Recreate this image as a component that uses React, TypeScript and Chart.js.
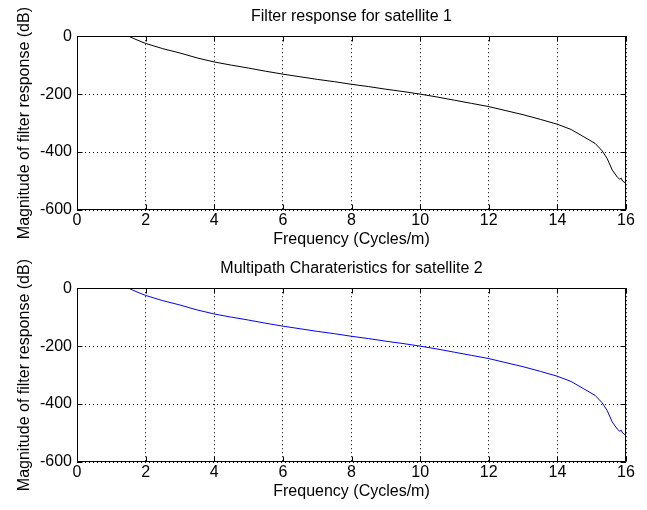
import React, { useEffect, useRef } from "react";
import { Chart, registerables } from "chart.js";

Chart.register(...registerables);

const freq1 = [1.5, 1.75, 2, 2.5, 3, 3.5, 4, 4.5, 5, 5.5, 6, 6.5, 7, 7.5, 8, 8.5, 9, 9.5, 10, 10.5, 11, 11.5, 12, 12.5, 13, 13.5, 14, 14.4, 14.75, 15.1, 15.3, 15.45, 15.6, 15.75, 15.82, 15.86, 15.9, 16];
const mag1 = [0, -13, -25, -43, -58, -75, -89, -100, -110, -121, -131, -140, -149, -157, -166, -174, -183, -191, -200, -210, -221, -232, -243, -257, -271, -287, -304, -322, -346, -370, -395, -422, -462, -487, -494, -490, -500, -508];
const freq2 = [1.5, 1.75, 2, 2.5, 3, 3.5, 4, 4.5, 5, 5.5, 6, 6.5, 7, 7.5, 8, 8.5, 9, 9.5, 10, 10.5, 11, 11.5, 12, 12.5, 13, 13.5, 14, 14.4, 14.75, 15.1, 15.3, 15.45, 15.6, 15.75, 15.82, 15.86, 15.9, 16];
const mag2 = [0, -13, -25, -43, -58, -75, -89, -100, -110, -121, -131, -140, -149, -157, -166, -174, -183, -191, -200, -210, -221, -232, -243, -257, -271, -287, -304, -322, -346, -370, -395, -422, -462, -487, -494, -490, -500, -508];

const title1 = "Filter response for satellite 1";
const title2 = "Multipath Charateristics for satellite 2";
const xLabel = "Frequency (Cycles/m)";
const yLabel = "Magnitude of filter response (dB)";
const xTicks = [0, 2, 4, 6, 8, 10, 12, 14, 16];
const yTicks = [-600, -400, -200, 0];

const FONT = "Arial, 'Liberation Sans', Helvetica, sans-serif";

const boxPlugin = {
  id: "matlabBox",
  afterDraw(chart: any) {
    const { ctx, chartArea } = chart;
    const xs = chart.scales.x;
    const ys = chart.scales.y;
    const l = Math.round(chartArea.left) + 0.5;
    const r = Math.round(chartArea.right) - 0.5;
    const t = Math.round(chartArea.top) + 0.5;
    const b = Math.round(chartArea.bottom) - 0.5;
    ctx.save();
    ctx.strokeStyle = "#000";
    ctx.lineWidth = 1;
    ctx.setLineDash([]);
    ctx.strokeRect(l, t, r - l, b - t);
    const tl = 5;
    ctx.beginPath();
    xTicks.forEach((v) => {
      const p = Math.round(xs.getPixelForValue(v)) + 0.5;
      ctx.moveTo(p, b);
      ctx.lineTo(p, b - tl);
      ctx.moveTo(p, t);
      ctx.lineTo(p, t + tl);
    });
    yTicks.forEach((v) => {
      const p = Math.round(ys.getPixelForValue(v)) + 0.5;
      ctx.moveTo(l, p);
      ctx.lineTo(l + tl, p);
      ctx.moveTo(r, p);
      ctx.lineTo(r - tl, p);
    });
    ctx.stroke();
    ctx.restore();
  },
};

function makeConfig(xs: number[], ys: number[], color: string, title: string): any {
  return {
    type: "line",
    data: {
      datasets: [
        {
          data: xs.map((x, i) => ({ x, y: ys[i] })),
          borderColor: color,
          borderWidth: 1,
          pointRadius: 0,
          tension: 0,
          fill: false,
        },
      ],
    },
    options: {
      animation: false,
      responsive: false,
      maintainAspectRatio: false,
      layout: { padding: { left: 0, right: 21, top: 0, bottom: 0 } },
      plugins: {
        legend: { display: false },
        tooltip: { enabled: false },
        title: {
          display: true,
          text: title,
          fullSize: false,
          color: "#000",
          font: { family: FONT, size: 16, weight: "normal" },
          padding: { top: 7, bottom: 10 },
        },
      },
      scales: {
        x: {
          type: "linear",
          min: 0,
          max: 16,
          afterBuildTicks(scale: any) {
            scale.ticks = xTicks.map((v) => ({ value: v }));
          },
          afterFit(scale: any) {
            scale.height = 42;
          },
          ticks: {
            color: "#000",
            padding: 1,
            font: { family: FONT, size: 16 },
            maxRotation: 0,
            autoSkip: false,
          },
          grid: { color: "#000", lineWidth: 1, drawTicks: false },
          border: { display: false, dash: [1, 3] },
          title: {
            display: true,
            text: xLabel,
            color: "#000",
            font: { family: FONT, size: 16 },
            padding: { top: 0, bottom: 3 },
          },
        },
        y: {
          type: "linear",
          min: -600,
          max: 0,
          afterBuildTicks(scale: any) {
            scale.ticks = yTicks.map((v) => ({ value: v }));
          },
          afterFit(scale: any) {
            scale.width = 77;
          },
          ticks: {
            color: "#000",
            padding: 5,
            font: { family: FONT, size: 16 },
            autoSkip: false,
          },
          grid: { color: "#000", lineWidth: 1, drawTicks: false },
          border: { display: false, dash: [1, 3] },
          title: {
            display: true,
            text: yLabel,
            color: "#000",
            font: { family: FONT, size: 16 },
            padding: { top: 15, bottom: 0 },
          },
        },
      },
    },
    plugins: [boxPlugin],
  };
}

function Plot(props: { xs: number[]; ys: number[]; color: string; title: string; top: number }) {
  const ref = useRef<HTMLCanvasElement | null>(null);
  useEffect(() => {
    if (!ref.current) return;
    const chart = new Chart(ref.current, makeConfig(props.xs, props.ys, props.color, props.title));
    return () => chart.destroy();
  }, []);
  return (
    <div style={{ position: "absolute", left: 0, top: props.top, width: 647, height: 252 }}>
      <canvas ref={ref} width={647} height={252} style={{ width: 647, height: 252, display: "block" }} />
    </div>
  );
}

export default function App() {
  return (
    <div style={{ position: "fixed", left: 0, top: 0, width: 647, height: 510, background: "#fff", overflow: "hidden" }}>
      <Plot xs={freq1} ys={mag1} color="#000000" title={title1} top={0} />
      <Plot xs={freq2} ys={mag2} color="#0000ff" title={title2} top={252} />
    </div>
  );
}
